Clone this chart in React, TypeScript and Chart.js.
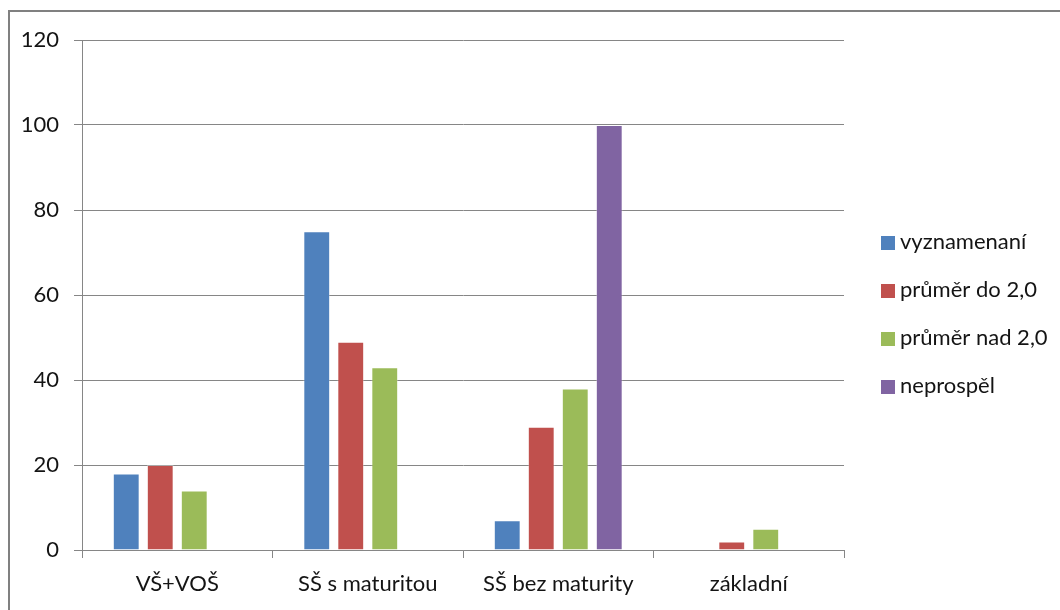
import React, { useEffect, useRef } from "react";
import { Chart, registerables } from "chart.js";

Chart.register(...registerables);

const categories = ["VŠ+VOŠ", "SŠ s maturitou", "SŠ bez maturity", "základní"];
const seriesNames = ["vyznamenaní", "průměr do 2,0", "průměr nad 2,0", "neprospěl"];
const vyznamenani = [18, 75, 7, 0];
const prumerDo2 = [20, 49, 29, 2];
const prumerNad2 = [14, 43, 38, 5];
const neprospel = [0, 0, 100, 0];
const yTicks = [0, 20, 40, 60, 80, 100, 120];
const colors = ["#4F81BD", "#C0504D", "#9BBB59", "#8064A2"];

const FONT_FAMILY = "Lato";
const FONT_SIZE = 22;
const TEXT_COLOR = "#141414";
const GRID_COLOR = "#868686";

const legendPlugin = {
  id: "rightLegend",
  afterDraw(chart: any) {
    const { ctx, chartArea } = chart;
    const x0 = chartArea.right + 37;
    const mid = (chartArea.top + chartArea.bottom) / 2 + 20;
    ctx.save();
    ctx.font = `${FONT_SIZE}px ${FONT_FAMILY}`;
    ctx.textBaseline = "alphabetic";
    ctx.textAlign = "left";
    chart.data.datasets.forEach((ds: any, i: number) => {
      const cy = mid + (i - 1.5) * 48;
      ctx.fillStyle = ds.backgroundColor;
      ctx.fillRect(x0, cy - 7, 14, 14);
      ctx.fillStyle = TEXT_COLOR;
      ctx.fillText(ds.label, x0 + 19, cy + 6);
    });
    ctx.restore();
  },
};

export default function App() {
  const ref = useRef<HTMLCanvasElement>(null);

  useEffect(() => {
    if (!ref.current) return;
    const font = { family: FONT_FAMILY, size: FONT_SIZE };
    const seriesValues = [vyznamenani, prumerDo2, prumerNad2, neprospel];
    const chart = new Chart(ref.current, {
      type: "bar",
      data: {
        labels: categories,
        datasets: seriesNames.map((name, i) => ({
          label: name,
          data: seriesValues[i],
          backgroundColor: colors[i],
          borderColor: "rgba(255,255,255,0.3)",
          borderWidth: 1,
          categoryPercentage: 0.714,
          barPercentage: 0.79,
        })),
      },
      options: {
        responsive: false,
        animation: false,
        devicePixelRatio: 1,
        layout: { padding: { top: 40, right: 216, left: 0, bottom: 0 } },
        plugins: {
          legend: { display: false },
          tooltip: { enabled: false },
        },
        scales: {
          x: {
            grid: {
              display: true,
              drawOnChartArea: false,
              drawTicks: true,
              tickLength: 8,
              color: GRID_COLOR,
              offset: true,
            },
            border: { display: true, color: GRID_COLOR, width: 1 },
            ticks: { font, color: TEXT_COLOR, padding: 13 },
            afterFit: (s: any) => {
              s.height = 60;
            },
          },
          y: {
            min: 0,
            max: 120,
            afterBuildTicks: (s: any) => {
              s.ticks = yTicks.map((v) => ({ value: v }));
            },
            grid: { color: GRID_COLOR, tickLength: 8, drawTicks: true },
            border: { display: true, color: GRID_COLOR, width: 1 },
            ticks: { font, color: TEXT_COLOR, padding: 15 },
            afterFit: (s: any) => {
              s.width = 82;
            },
          },
        },
      },
      plugins: [legendPlugin],
    });
    return () => chart.destroy();
  }, []);

  return (
    <div
      style={{
        position: "fixed",
        left: 0,
        top: 0,
        width: 1060,
        height: 610,
        overflow: "hidden",
        background: "#ffffff",
      }}
    >
      <canvas
        ref={ref}
        width={1060}
        height={610}
        style={{ position: "absolute", left: 0, top: 0, width: 1060, height: 610 }}
      />
      <div
        style={{
          position: "absolute",
          left: 8,
          top: 10,
          width: 1200,
          height: 800,
          border: "2px solid #808080",
          boxSizing: "border-box",
          pointerEvents: "none",
        }}
      />
    </div>
  );
}
